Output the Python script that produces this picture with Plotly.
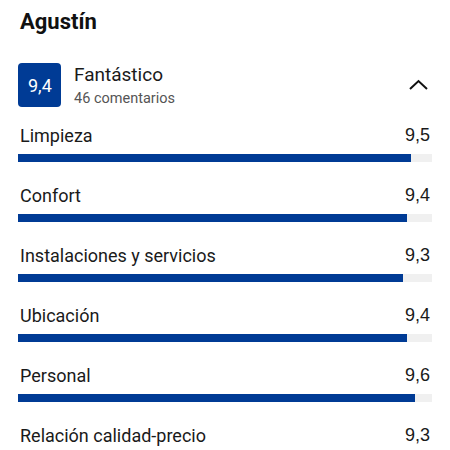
import plotly.graph_objects as go

categories = ["Limpieza", "Confort", "Instalaciones y servicios", "Ubicación", "Personal", "Relación calidad-precio"]
scores = [9.5, 9.4, 9.3, 9.4, 9.6, 9.3]
max_score = 10
overall_score = 9.4
overall_label = "Fantástico"
review_count = 46
reviewer = "Agustín"

W, H = 450, 450
BLUE = "#003b95"
TRACK = "#f0f0f0"
TEXT = "#1a1a1a"

rows = list(range(len(categories)))

def fmt(v):
    return f"{v:.1f}".replace(".", ",")

fig = go.Figure()
fig.add_trace(go.Bar(
    x=[max_score] * len(categories), y=rows, orientation="h",
    marker=dict(color=TRACK, line=dict(width=0)), width=8 / 60,
    hoverinfo="skip", showlegend=False,
))
fig.add_trace(go.Bar(
    x=scores, y=rows, orientation="h",
    marker=dict(color=BLUE, line=dict(width=0), cornerradius=4), width=8 / 60,
    customdata=categories, hovertemplate="%{customdata}: %{x}<extra></extra>", showlegend=False,
))

annotations = []
for i, (c, s) in enumerate(zip(categories, scores)):
    annotations.append(dict(x=18 / W, xref="paper", y=i - 23 / 60, yref="y", text=c,
                            showarrow=False, xanchor="left", yanchor="middle",
                            font=dict(family="Roboto", size=18, color=TEXT)))
    annotations.append(dict(x=432 / W, xref="paper", y=i - 23 / 60, yref="y", text=fmt(s),
                            showarrow=False, xanchor="right", yanchor="middle",
                            font=dict(family="Liberation Sans", size=18, color=TEXT)))

def px(x, y):
    return dict(x=x / W, y=1 - y / H)

annotations.append(dict(**px(18, 22), xref="paper", yref="paper", text=f"<b>{reviewer}</b>",
                        showarrow=False, xanchor="left", yanchor="middle",
                        font=dict(family="Roboto", size=22, color="#111111")))
annotations.append(dict(**px(39.5, 85), xref="paper", yref="paper", text=fmt(overall_score),
                        showarrow=False, xanchor="center", yanchor="middle",
                        font=dict(family="Roboto", size=18, color="white")))
annotations.append(dict(**px(72, 75), xref="paper", yref="paper", text=overall_label,
                        showarrow=False, xanchor="left", yanchor="middle",
                        font=dict(family="Roboto", size=19, color=TEXT)))
annotations.append(dict(**px(72, 99), xref="paper", yref="paper", text=f"{review_count} comentarios",
                        showarrow=False, xanchor="left", yanchor="middle",
                        font=dict(family="Roboto", size=14.5, color="#555555")))

def P(x, y):
    return f"{x / W:.5f},{1 - y / H:.5f}"

x0, y0, x1, y1, r = 18, 63, 61, 107, 4
badge = (f"M {P(x0 + r, y0)} L {P(x1 - r, y0)} Q {P(x1, y0)} {P(x1, y0 + r)} "
         f"L {P(x1, y1 - r)} Q {P(x1, y1)} {P(x1 - r, y1)} "
         f"L {P(x0 + r, y1)} Q {P(x0, y1)} {P(x0, y1 - r)} "
         f"L {P(x0, y0 + r)} Q {P(x0, y0)} {P(x0 + r, y0)} Z")
shapes = [
    dict(type="path", xref="paper", yref="paper", path=badge, fillcolor=BLUE, line=dict(width=0)),
    dict(type="path", xref="paper", yref="paper",
         path=f"M {P(410, 89)} L {P(418.5, 81)} L {P(427, 89)}",
         line=dict(color="#111111", width=2)),
]

fig.update_layout(
    width=W, height=H, margin=dict(l=0, r=0, t=0, b=0),
    paper_bgcolor="white", plot_bgcolor="white",
    barmode="overlay", bargap=0,
    xaxis=dict(range=[-18 / 41.4, (W - 18) / 41.4], visible=False, fixedrange=True),
    yaxis=dict(range=[(H - 158) / 60, -158 / 60], visible=False, fixedrange=True),
    annotations=annotations, shapes=shapes,
)

fig.write_html("out.html", config={"displayModeBar": False},
               post_script="document.body.style.margin='0';document.body.style.overflow='hidden';")
